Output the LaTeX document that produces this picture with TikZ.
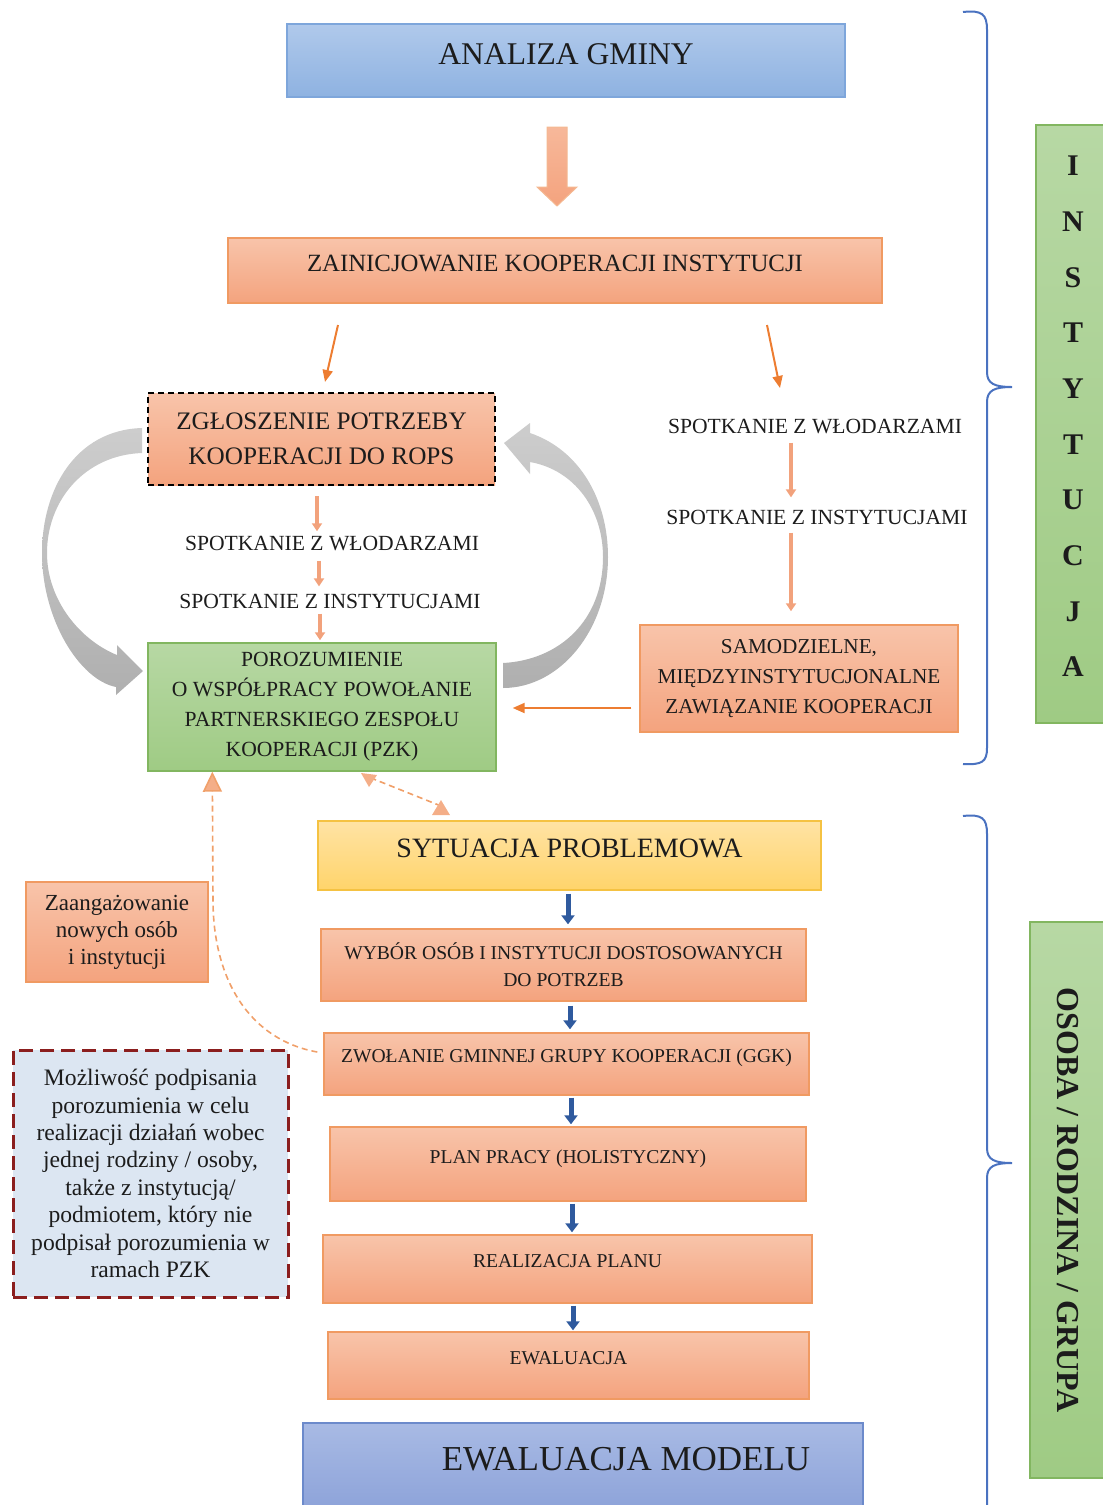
\documentclass[tikz,border=0pt]{standalone}
\usepackage{fontspec}
\setmainfont{Liberation Serif}
\usetikzlibrary{arrows.meta,calc}
\definecolor{txt}{HTML}{1C1C1C}
\definecolor{salTop}{HTML}{F8C4AA}
\definecolor{salBot}{HTML}{F4A37E}
\definecolor{salLine}{HTML}{F09A62}
\definecolor{grnTop}{HTML}{B7D8A4}
\definecolor{grnBot}{HTML}{9FCB84}
\definecolor{grnLine}{HTML}{82B660}
\definecolor{bluTop}{HTML}{B0C9EB}
\definecolor{bluBot}{HTML}{8EB2E1}
\definecolor{bluLine}{HTML}{7EA6DB}
\definecolor{yelTop}{HTML}{FFE3A4}
\definecolor{yelBot}{HTML}{FFD46B}
\definecolor{yelLine}{HTML}{F5C242}
\definecolor{modTop}{HTML}{A8BAE4}
\definecolor{modBot}{HTML}{8CA2D9}
\definecolor{modLine}{HTML}{6C8ACB}
\definecolor{mozFill}{HTML}{DCE6F2}
\definecolor{mozLine}{HTML}{8B1E1E}
\definecolor{arrOrange}{HTML}{ED7D31}
\definecolor{arrSalmon}{HTML}{F2A27C}
\definecolor{arrBlue}{HTML}{2F5A9E}
\definecolor{dashOr}{HTML}{F0A06A}
\definecolor{triFill}{HTML}{F4AE88}
\definecolor{braceBlue}{HTML}{4A72C0}
\definecolor{grayTop}{HTML}{CDCDCD}
\definecolor{grayBot}{HTML}{AFAFAF}
\definecolor{blockTop}{HTML}{F7B89A}
\tikzset{
  every node/.style={text=txt},
  boxbase/.style={inner sep=0pt, align=center, line width=0.7pt},
  salbox/.style={boxbase, draw=salLine, top color=salTop, bottom color=salBot},
  greenbox/.style={boxbase, draw=grnLine, top color=grnTop, bottom color=grnBot},
  bluebox/.style={boxbase, draw=bluLine, top color=bluTop, bottom color=bluBot},
  yelbox/.style={boxbase, draw=yelLine, top color=yelTop, bottom color=yelBot},
  modbox/.style={boxbase, draw=modLine, top color=modTop, bottom color=modBot},
  lbl/.style={inner sep=0pt},
  oarrow/.style={draw=arrOrange, line width=1pt, -{Triangle[width=5pt,length=6pt]}},
  sarrow/.style={draw=arrSalmon, line width=2pt, -{Triangle[width=5pt,length=4pt]}},
  barrow/.style={draw=arrBlue, line width=2.5pt, -{Triangle[width=6.5pt,length=4.5pt]}},
  dashconn/.style={draw=dashOr, line width=0.8pt, dash pattern=on 3pt off 2pt},
  bracepath/.style={draw=braceBlue, line width=1pt},
  grayarrow/.style={top color=grayTop, bottom color=grayBot, draw=none},
  stepfont/.style={font=\fontsize{9.8}{13.5}\selectfont},
}
\begin{document}
\begin{tikzpicture}[x=0.5pt,y=-0.5pt]
\useasboundingbox (0,0) rectangle (1103,1505);

% ---------- top part ----------
\node[bluebox, minimum width=279pt, minimum height=36.5pt, text depth=6.5pt,
      font=\fontsize{15.8}{18}\selectfont] (analiza) at (566,60.5) {ANALIZA GMINY};

\coordinate (ba) at (557,127);
\path[top color=blockTop, bottom color=salBot, draw=salLine!70, line width=0.5pt]
  (ba) ++(-10,0) -- ++(20,0) -- ++(0,60) -- ++(10,0) -- ++(-20,19) -- ++(-20,-19) -- ++(10,0) -- cycle;

\node[salbox, minimum width=327pt, minimum height=32.5pt, text depth=7.5pt,
      font=\fontsize{12.4}{15}\selectfont] (zainic) at (555,270.5) {ZAINICJOWANIE KOOPERACJI INSTYTUCJI};

\coordinate (dl1) at (338,325); \coordinate (dl2) at (325,382);
\coordinate (dr1) at (767,325); \coordinate (dr2) at (780,388);
\draw[oarrow] (dl1) -- (dl2);
\draw[oarrow] (dr1) -- (dr2);

% ---------- gray loop arrows ----------
\path[grayarrow]
  (142,428) .. controls (75,430) and (42,490) .. (42,553)
  .. controls (42,620) and (80,680) .. (116,687)
  -- (116,695) -- (143,671) -- (117,645) -- (117,655)
  .. controls (80,640) and (47,600) .. (47,553)
  .. controls (47,500) and (85,455) .. (142,453) -- cycle;
\path[grayarrow]
  (503,688) .. controls (560,688) and (608,630) .. (608,557)
  .. controls (608,500) and (580,450) .. (530,433)
  -- (530,423) -- (504,443) -- (530,474) -- (530,462)
  .. controls (575,470) and (603,510) .. (603,557)
  .. controls (603,620) and (560,660) .. (503,663) -- cycle;

% ---------- left column ----------
\node[boxbase, draw=black, line width=1pt, dash pattern=on 3pt off 2pt,
      top color=salTop, bottom color=salBot, minimum width=173.5pt, minimum height=46pt,
      font=\fontsize{12.6}{17.5}\selectfont] (zglosz) at (321.5,439)
      {ZGŁOSZENIE POTRZEBY\\KOOPERACJI DO ROPS};

\node[lbl, font=\fontsize{10.8}{13}\selectfont] (spotL1) at (332,544) {SPOTKANIE Z WŁODARZAMI};
\node[lbl, font=\fontsize{10.8}{13}\selectfont] (spotL2) at (330,601) {SPOTKANIE Z INSTYTUCJAMI};

\node[greenbox, minimum width=174pt, minimum height=64pt,
      font=\fontsize{10.8}{15}\selectfont] (pzk) at (322,707)
      {POROZUMIENIE\\O WSPÓŁPRACY POWOŁANIE\\PARTNERSKIEGO ZESPOŁU\\KOOPERACJI (PZK)};

\draw[sarrow, shorten <=5pt, shorten >=2.5pt] ([xshift=-2.25pt]zglosz.south) -- ([xshift=-2.25pt]zglosz.south |- spotL1.north);
\draw[sarrow, shorten <=4.5pt, shorten >=3.5pt] ([xshift=-6.5pt]spotL1.south) -- ([xshift=-6.5pt]spotL1.south |- spotL2.north);
\draw[sarrow, shorten <=2.5pt, shorten >=1pt] ([xshift=-5pt]spotL2.south) -- ([xshift=-5pt]spotL2.south |- pzk.north);

% ---------- right column ----------
\node[lbl, font=\fontsize{10.8}{13}\selectfont] (spotR1) at (815,427) {SPOTKANIE Z WŁODARZAMI};
\node[lbl, font=\fontsize{10.8}{13}\selectfont] (spotR2) at (817,517) {SPOTKANIE Z INSTYTUCJAMI};
\node[salbox, minimum width=159pt, minimum height=53.5pt,
      font=\fontsize{10.6}{15}\selectfont] (samo) at (799,678.5)
      {SAMODZIELNE,\\MIĘDZYINSTYTUCJONALNE\\ZAWIĄZANIE KOOPERACJI};

\draw[sarrow, line width=1.6pt, shorten <=4pt, shorten >=6pt] ([xshift=-12pt]spotR1.south) -- ([xshift=-12pt]spotR1.south |- spotR2.north);
\draw[sarrow, line width=1.6pt, shorten <=4pt, shorten >=6.5pt] ([xshift=-13pt]spotR2.south) -- ([xshift=-13pt]spotR2.south |- samo.north);
\draw[oarrow, shorten <=4pt, shorten >=8pt] ([yshift=-14.75pt]samo.west) -- ([yshift=-14.75pt]samo.west -| pzk.east);

% ---------- braces ----------
\draw[bracepath] (963,12) .. controls (982,10) and (987,14) .. (987,30) -- (987,372)
  .. controls (987,384) and (995,387) .. (1012,387)
  .. controls (995,387) and (987,390) .. (987,402) -- (987,748)
  .. controls (987,762) and (982,765) .. (963,764);
\draw[bracepath] (963,816) .. controls (982,814) and (987,818) .. (987,834) -- (987,1148)
  .. controls (987,1160) and (995,1163) .. (1012,1163)
  .. controls (995,1163) and (987,1166) .. (987,1178) -- (987,1510);

% ---------- side labels ----------
\node[greenbox, minimum width=37pt, minimum height=299pt] (inst) at (1073,424) {};
\node[lbl, align=center, font=\bfseries\fontsize{15}{27.85}\selectfont] (insttxt) at (1073,416.5)
  {I\\N\\S\\T\\Y\\T\\U\\C\\J\\A};
\node[greenbox, minimum width=40pt, minimum height=278pt] (osoba) at (1070,1200) {};
\node[lbl, rotate=-90, font=\bfseries\fontsize{16}{19}\selectfont] (osobatxt) at (1068,1200)
  {OSOBA / RODZINA / GRUPA};

% ---------- lower flow ----------
\node[yelbox, minimum width=251.5pt, minimum height=34.5pt, text depth=7.5pt,
      font=\fontsize{14}{17}\selectfont] (sytu) at (569.5,855.5) {SYTUACJA PROBLEMOWA};
\node[salbox, minimum width=242.5pt, minimum height=36pt, stepfont] (wybor) at (563.5,965)
  {WYBÓR OSÓB I INSTYTUCJI DOSTOSOWANYCH\\DO POTRZEB};
\node[salbox, minimum width=242.5pt, minimum height=31pt, text depth=8pt, stepfont] (zwol) at (566.5,1064)
  {ZWOŁANIE GMINNEJ GRUPY KOOPERACJI (GGK)};
\node[salbox, minimum width=238pt, minimum height=37pt, text depth=7pt, stepfont] (plan) at (568,1164)
  {PLAN PRACY (HOLISTYCZNY)};
\node[salbox, minimum width=244.5pt, minimum height=34pt, text depth=8pt, stepfont] (real) at (567.5,1269)
  {REALIZACJA PLANU};
\node[salbox, minimum width=240.5pt, minimum height=33.5pt, text depth=7.5pt, stepfont] (ewal) at (568.5,1365.5)
  {EWALUACJA};
\node[modbox, minimum width=280pt, minimum height=45pt] (model) at (583,1468) {};
\node[lbl, font=\fontsize{17.5}{20}\selectfont] (modeltxt) at (626,1459) {EWALUACJA MODELU};

\draw[barrow, shorten <=1.5pt, shorten >=2pt] ([xshift=-0.75pt]sytu.south) -- ([xshift=-0.75pt]sytu.south |- wybor.north);
\draw[barrow, shorten <=2pt, shorten >=1.5pt] ([xshift=3.25pt]wybor.south) -- ([xshift=3.25pt]wybor.south |- zwol.north);
\draw[barrow, shorten <=1pt, shorten >=1pt] ([xshift=2.25pt]zwol.south) -- ([xshift=2.25pt]zwol.south |- plan.north);
\draw[barrow, shorten <=1pt, shorten >=1pt] ([xshift=2pt]plan.south) -- ([xshift=2pt]plan.south |- real.north);
\draw[barrow, shorten <=1pt, shorten >=0.5pt] ([xshift=2.75pt]real.south) -- ([xshift=2.75pt]real.south |- ewal.north);

% ---------- left notes ----------
\node[salbox, minimum width=91pt, minimum height=50pt, font=\fontsize{11.5}{13.5}\selectfont] (zaang) at (117,932)
  {Zaangażowanie\\nowych osób\\i instytucji};
\node[boxbase, draw=mozLine, fill=mozFill, line width=1.5pt, dash pattern=on 7pt off 3.5pt,
      minimum width=137.5pt, minimum height=123.5pt, font=\fontsize{11.8}{13.7}\selectfont] (mozl) at (150.5,1173.5)
  {Możliwość podpisania\\porozumienia w celu\\realizacji działań wobec\\jednej rodziny / osoby,\\także z instytucją/\\podmiotem, który nie\\podpisał porozumienia w\\ramach PZK};

% ---------- dashed connectors ----------
\draw[dashconn, -{Triangle[width=9.5pt,length=10pt,fill=triFill]}]
  ([xshift=-3pt,yshift=6pt]zwol.west) .. controls (250,1040) and (213,980) .. (213,900)
  -- ([xshift=32.5pt]pzk.south west);
\coordinate (dsA) at (441,806);
\coordinate (dsB) at (371,778);
\draw[dashconn] (dsA) -- (dsB);
\fill[triFill] (dsA) ++(0,-6) -- ++(9,15) -- ++(-18,0) -- cycle;
\fill[triFill] (361,773) -- (377,775) -- (369,787) -- cycle;
\end{tikzpicture}
\end{document}
